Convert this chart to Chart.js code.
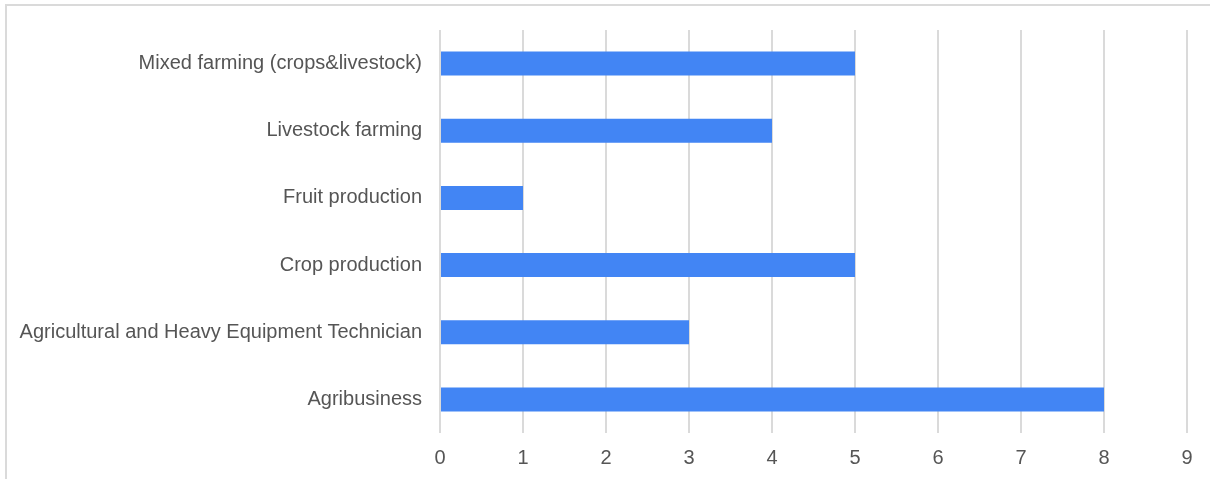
<!DOCTYPE html>
<html>
<head>
<meta charset="utf-8">
<title>Programs</title>
<script src="https://cdn.jsdelivr.net/npm/chart.js@4"></script>
<style>
  html, body { margin: 0; padding: 0; background: #fff; }
  body { width: 1214px; height: 479px; position: relative; overflow: hidden; }
  .frame {
    position: absolute; left: 5px; top: 4px; width: 1203px; height: 500px;
    border-top: 2px solid #dadada; border-left: 2px solid #dadada;
  }
  #programChart { position: absolute; left: 0; top: 0; }
</style>
</head>
<body>
<div class="frame"></div>
<canvas id="programChart" width="1214" height="479"></canvas>
<script>
const programs = [
  'Mixed farming (crops&livestock)',
  'Livestock farming',
  'Fruit production',
  'Crop production',
  'Agricultural and Heavy Equipment Technician',
  'Agribusiness'
];
const counts = [5, 4, 1, 5, 3, 8];
const xTicks = [0, 1, 2, 3, 4, 5, 6, 7, 8, 9];

const font = { family: '"Liberation Sans", Arial, sans-serif', size: 20 };

const ctx = document.getElementById('programChart').getContext('2d');
new Chart(ctx, {
  type: 'bar',
  data: {
    labels: programs,
    datasets: [{
      data: counts,
      backgroundColor: '#4285f4',
      borderWidth: 0,
      categoryPercentage: 1,
      barPercentage: 0.357
    }]
  },
  options: {
    indexAxis: 'y',
    responsive: false,
    animation: false,
    layout: { padding: { top: 30, right: 27, left: 0, bottom: 0 } },
    plugins: { legend: { display: false }, tooltip: { enabled: false } },
    scales: {
      x: {
        min: 0,
        max: 9,
        afterBuildTicks: scale => { scale.ticks = xTicks.map(v => ({ value: v })); },
        afterFit: scale => { scale.height = 46; },
        grid: { color: '#dadada', lineWidth: 2, drawTicks: false },
        border: { display: false },
        ticks: { color: '#555', font: font, padding: 13 }
      },
      y: {
        afterFit: scale => { scale.width = 440; },
        grid: { display: false, drawTicks: false },
        border: { display: false },
        ticks: { color: '#555', font: font, padding: 18 }
      }
    }
  }
});
</script>
</body>
</html>
